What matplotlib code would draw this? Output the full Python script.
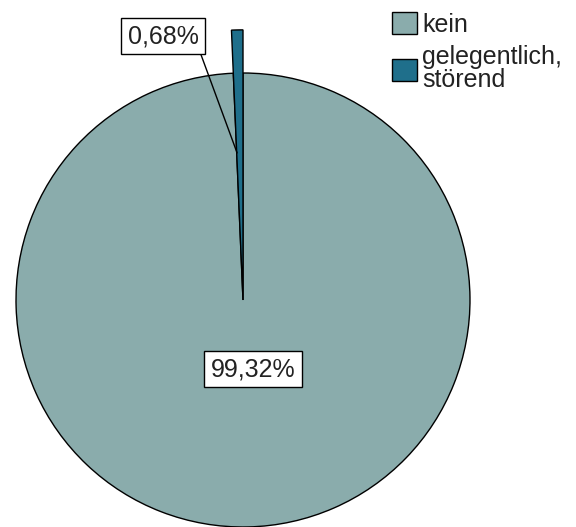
import matplotlib.pyplot as plt

# Anteile der Antworten
labels = ["kein", "gelegentlich,\nstörend"]
values = [99.32, 0.68]
colors = ["#8aacac", "#1f6f8b"]

plt.rcParams['font.family'] = ['Liberation Sans', 'DejaVu Sans']

fig = plt.figure(figsize=(5.76, 5.27), dpi=100)
ax = fig.add_axes([0, 0, 1, 1])

wedges, _ = ax.pie(values, colors=colors, startangle=90, counterclock=False,
                   radius=1.0, wedgeprops=dict(edgecolor='black', linewidth=1.0))
# kleines Segment herausgezogen (länger gezeichnet)
wedges[1].set_radius(1.19)

ax.set_xlim(-1.0705, 1.467)
ax.set_ylim(-1.0, 1.3216)
ax.axis('off')

def pct(v):
    return f"{v:.2f}%".replace('.', ',')

box = dict(boxstyle='square,pad=0.25', facecolor='white', edgecolor='black', linewidth=1.0)

ax.text(0.044, -0.304, pct(values[0]), ha='center', va='center', fontsize=18,
        color='#222222', bbox=box)

ax.annotate(pct(values[1]), xy=(-0.026, 0.648), xytext=(-0.352, 1.163),
            ha='center', va='center', fontsize=18, color='#222222', bbox=box,
            arrowprops=dict(arrowstyle='-', color='black', linewidth=1.0,
                            relpos=(1.0, 0.0), shrinkA=0, shrinkB=0))

leg = ax.legend(wedges, labels, loc='upper left',
                bbox_to_anchor=(392 / 576, 1 - 12 / 527), bbox_transform=fig.transFigure,
                frameon=False, fontsize=18, handlelength=1.0, handleheight=1.0,
                handletextpad=0.2, borderpad=0, borderaxespad=0, labelspacing=0.34)
for t in leg.get_texts():
    t.set_linespacing(0.95)
    t.set_color('#222222')

fig.savefig('out.png', dpi=100)
